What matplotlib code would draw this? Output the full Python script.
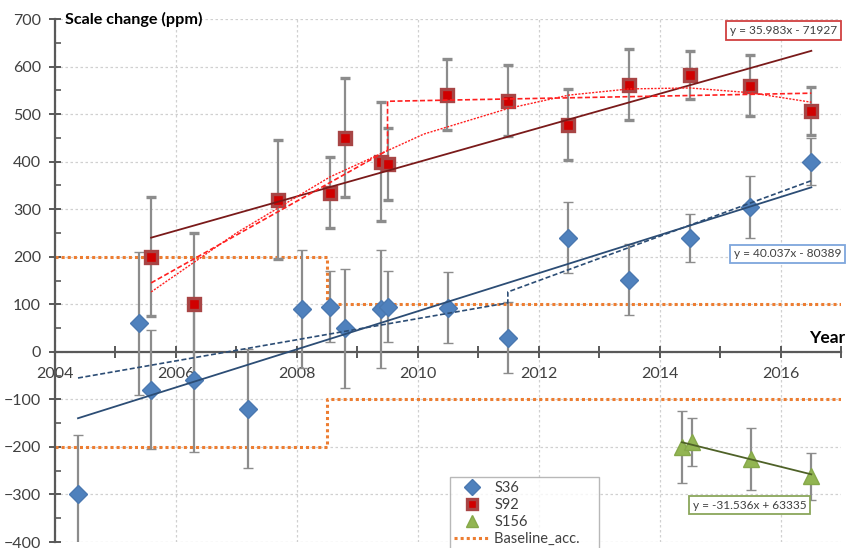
import numpy as np
import matplotlib.pyplot as plt
from matplotlib.ticker import MultipleLocator

plt.rcParams['font.family'] = ['Lato', 'DejaVu Sans']

# S36 (blue diamonds)
s36_x = [2004.38, 2005.39, 2005.59, 2006.30, 2007.19, 2008.08, 2008.55, 2008.79,
         2009.40, 2009.50, 2010.50, 2011.49, 2012.48, 2013.49, 2014.50, 2015.50, 2016.51]
s36_y = [-300, 60, -80, -60, -120, 90, 95, 50, 90, 95, 93, 30, 240, 152, 240, 305, 400]
s36_err = [125, 150, 125, 150, 125, 125, 75, 125, 125, 75, 75, 75, 75, 75, 50, 65, 50]

# S92 (red squares)
s92_x = [2005.59, 2006.30, 2007.69, 2008.55, 2008.79, 2009.40, 2009.50, 2010.49,
         2011.49, 2012.48, 2013.49, 2014.50, 2015.50, 2016.51]
s92_y = [200, 100, 320, 335, 450, 400, 395, 541, 528, 478, 562, 582, 560, 507]
s92_err = [125, 150, 125, 75, 125, 125, 75, 75, 75, 75, 75, 50, 65, 50]

# S156 (green triangles)
s156_x = [2014.37, 2014.53, 2015.52, 2016.51]
s156_y = [-200, -190, -225, -262]
s156_err = [75, 50, 65, 50]

# linear trend equations shown on the chart
fit36 = (40.037, -80389)
fit92 = (35.983, -71927)
fit156 = (-31.536, 63335)

# model curves
s92_poly_x = [2005.59, 2007.0, 2008.55, 2010.1, 2011.5, 2012.5, 2013.5, 2014.5, 2015.5, 2016.51]
s92_poly_y = [126, 250, 368, 458, 512, 540, 553, 555, 545, 525]
s92_step_x = [2005.59, 2009.5, 2009.5, 2016.51]
s92_step_y = [145, 424, 527, 544]
s36_step_x = [2004.38, 2011.49, 2011.49, 2016.51]
s36_step_y = [-55, 103, 126, 360]

# baseline accuracy envelope
base_x = [2004, 2008.5, 2008.5, 2017]
base_hi = [200, 200, 100, 100]
base_lo = [-200, -200, -100, -100]

fig = plt.figure(figsize=(8.48, 5.48), dpi=100)
ax = fig.add_axes([0.0649, 0.0109, 0.9268, 0.9544])
ax.set_xlim(2004, 2017)
ax.set_ylim(-400, 700)

ax.xaxis.set_major_locator(MultipleLocator(2))
ax.xaxis.set_minor_locator(MultipleLocator(1))
ax.yaxis.set_major_locator(MultipleLocator(100))
ax.yaxis.set_minor_locator(MultipleLocator(50))
ax.grid(True, which='major', color='#d0d0d0', linestyle=(0, (2, 2)), linewidth=0.9)
ax.set_axisbelow(True)

for s in ['top', 'right']:
    ax.spines[s].set_visible(False)
ax.spines['bottom'].set_position(('data', 0))
for s in ['left', 'bottom']:
    ax.spines[s].set_color('#595959')
    ax.spines[s].set_linewidth(1.6)
ax.tick_params(axis='both', which='major', direction='inout', length=8, width=1.4,
               color='#595959', labelsize=11.5, labelcolor='#404040')
ax.tick_params(axis='x', which='major', pad=7)
ax.tick_params(axis='y', which='major', pad=6)
ax.tick_params(axis='x', which='minor', direction='inout', length=8, width=1.4, color='#595959')
ax.tick_params(axis='y', which='minor', direction='in', length=4, width=1.2, color='#595959')

# baseline
base_line, = ax.plot(base_x, base_hi, color='#ed7d31', linestyle=(0, (1, 1)), linewidth=2.2,
                     zorder=2)
ax.plot(base_x, base_lo, color='#ed7d31', linestyle=(0, (1, 1)), linewidth=2.2, zorder=2)

ebkw = dict(ecolor='#8c8c8c', elinewidth=1.6, capsize=3.5, capthick=1.4, linestyle='none')

e36 = ax.errorbar(s36_x, s36_y, yerr=s36_err, marker='D', markersize=9,
                  markerfacecolor='#4f81bd', markeredgecolor='#4a78b0', markeredgewidth=1,
                  zorder=3, **ebkw)
e92 = ax.errorbar(s92_x, s92_y, yerr=s92_err, marker='s', markersize=9,
                  markerfacecolor='#d00000', markeredgecolor='#a84545', markeredgewidth=2.4,
                  zorder=3, **ebkw)
e156 = ax.errorbar(s156_x, s156_y, yerr=s156_err, marker='^', markersize=11,
                   markerfacecolor='#92b552', markeredgecolor='#86a84a', markeredgewidth=1,
                   zorder=3, **ebkw)

# trend lines
xs = np.array([min(s36_x), max(s36_x)])
ax.plot(xs, fit36[0] * xs + fit36[1], color='#2c4d75', linewidth=1.3, zorder=4)
xs = np.array([min(s92_x), max(s92_x)])
ax.plot(xs, fit92[0] * xs + fit92[1], color='#7a1a1a', linewidth=1.3, zorder=4)
xs = np.array([min(s156_x), max(s156_x)])
ax.plot(xs, fit156[0] * xs + fit156[1], color='#4f6228', linewidth=1.3, zorder=4)

ax.plot(s92_poly_x, s92_poly_y, color='#ff2020', linestyle=(0, (1.5, 1)), linewidth=1.0, zorder=4)
ax.plot(s92_step_x, s92_step_y, color='#ff2020', linestyle=(0, (3, 1.5)), linewidth=1.2, zorder=4)
ax.plot(s36_step_x, s36_step_y, color='#2c4d75', linestyle=(0, (3, 1.5)), linewidth=1.2, zorder=4)

# equation labels
eq_kw = dict(fontsize=8.6, ha='center', va='center', color='#404040', zorder=6)
ax.text(2016.05, 676, 'y = 35.983x - 71927',
        bbox=dict(boxstyle='square,pad=0.3', fc='white', ec='#d04040', lw=1.3), **eq_kw)
ax.text(2016.12, 206, 'y = 40.037x - 80389',
        bbox=dict(boxstyle='square,pad=0.3', fc='white', ec='#7ea6dc', lw=1.3), **eq_kw)
ax.text(2015.49, -323, 'y = -31.536x + 63335',
        bbox=dict(boxstyle='square,pad=0.3', fc='white', ec='#8aa65a', lw=1.3), **eq_kw)

# axis titles
ax.text(2004.17, 700, 'Scale change (ppm)', fontsize=11.6, fontweight='bold',
        ha='left', va='center', color='black', clip_on=False)
ax.text(2017.07, 30, 'Year', fontsize=12.5, fontweight='bold',
        ha='right', va='center', color='black', clip_on=False)

leg = fig.legend([e36[0], e92[0], e156[0], base_line],
                 ['S36', 'S92', 'S156', 'Baseline_acc.    '],
                 loc='upper left', bbox_to_anchor=(450 / 848, 1 - 477 / 548),
                 fontsize=10.5, frameon=True, fancybox=False, edgecolor='#a6a6a6',
                 handlelength=2.4, labelspacing=0.2, borderpad=0.3, handletextpad=0.35,
                 markerscale=0.85, borderaxespad=0)
leg.get_frame().set_linewidth(1.0)
for t in leg.get_texts():
    t.set_color('#404040')

fig.savefig('out.png', dpi=100)
